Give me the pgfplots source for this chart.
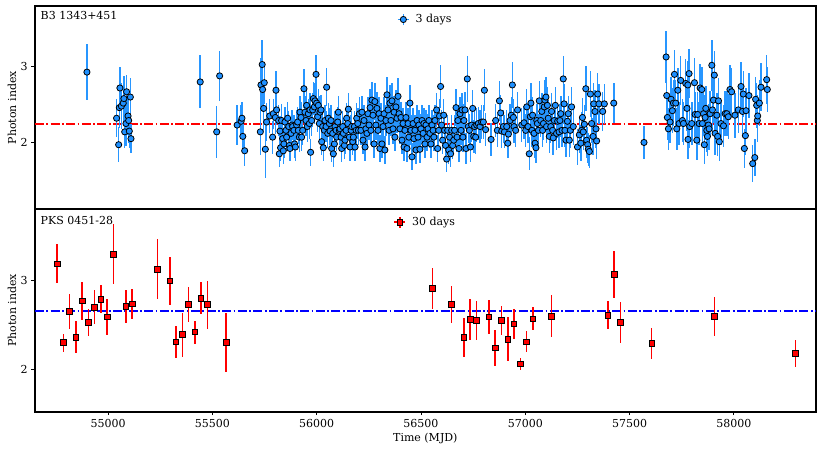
\documentclass[border=0pt]{standalone}
\usepackage{fontspec}
\setmainfont{DejaVu Serif}
\usepackage{pgfplots}
\pgfplotsset{compat=1.18}
\usepackage{pgfplotstable}
\definecolor{ptblue}{RGB}{30,144,255}
\definecolor{ebblue}{RGB}{40,150,255}

\pgfplotstableread{
x y e
54899 2.93 0.37
55041 2.32 0.25
55051 1.97 0.23
55054 2.46 0.27
55057 2.72 0.28
55064 2.48 0.30
55073 2.52 0.28
55076 2.58 0.30
55080 2.14 0.22
55086 2.25 0.30
55089 2.67 0.22
55096 2.35 0.25
55099 2.29 0.30
55102 2.15 0.22
55107 2.60 0.25
55110 2.05 0.19
55442 2.80 0.35
55521 2.14 0.34
55535 2.88 0.33
55619 2.23 0.27
55638 2.28 0.22
55642 2.32 0.22
55646 2.08 0.20
55655 1.89 0.20
55730 2.14 0.30
55733 2.76 0.35
55739 3.03 0.32
55741 2.70 0.30
55746 2.45 0.30
55749 2.79 0.28
55754 1.91 0.38
55760 2.27 0.25
55775 2.35 0.22
55789 2.07 0.22
55792 2.38 0.20
55802 2.33 0.22
55805 2.69 0.25
55808 2.43 0.20
55818 2.29 0.20
55821 1.85 0.18
55824 2.15 0.20
55827 1.93 0.18
55832 2.29 0.22
55837 2.05 0.20
55840 1.89 0.18
55843 1.98 0.18
55848 2.27 0.20
55853 2.16 0.20
55856 2.07 0.18
55861 2.32 0.22
55866 2.21 0.20
55869 1.96 0.18
55872 1.92 0.17
55877 2.12 0.20
55882 2.23 0.20
55885 2.21 0.18
55891 2.16 0.20
55894 1.98 0.18
55898 1.94 0.18
55904 2.23 0.20
55909 2.27 0.20
55912 2.16 0.18
55917 2.07 0.20
55920 2.40 0.22
55925 2.33 0.20
55928 2.07 0.18
55933 2.16 0.20
55939 2.71 0.26
55944 2.40 0.22
55949 2.29 0.20
55952 2.49 0.22
55955 2.21 0.20
55960 2.38 0.20
55965 2.25 0.20
55968 2.43 0.22
55971 1.87 0.18
55976 2.29 0.20
55981 2.43 0.22
55984 2.58 0.22
55989 2.47 0.22
55992 2.55 0.24
55997 2.90 0.26
56000 2.52 0.22
56005 2.34 0.20
56008 2.49 0.22
56013 2.25 0.20
56016 2.40 0.22
56021 2.43 0.20
56024 2.01 0.18
56029 2.21 0.20
56032 1.93 0.18
56037 2.16 0.20
56040 2.29 0.20
56045 2.21 0.20
56048 2.73 0.25
56053 2.12 0.20
56056 2.32 0.20
56061 2.25 0.20
56064 2.15 0.18
56069 2.29 0.20
56072 1.92 0.18
56077 2.12 0.20
56080 1.85 0.17
56085 1.98 0.18
56088 2.21 0.20
56093 2.16 0.20
56096 2.07 0.18
56101 2.27 0.20
56104 2.40 0.22
56109 2.16 0.20
56112 2.18 0.20
56117 2.07 0.18
56120 1.92 0.18
56125 2.21 0.20
56128 2.12 0.20
56133 1.96 0.18
56136 2.03 0.18
56141 2.16 0.20
56144 2.32 0.20
56149 2.25 0.20
56152 2.44 0.22
56157 2.07 0.18
56160 1.94 0.18
56165 2.16 0.20
56168 2.21 0.20
56173 2.01 0.18
56176 2.07 0.18
56181 2.21 0.20
56184 1.94 0.18
56189 2.16 0.20
56192 2.32 0.20
56197 2.25 0.20
56200 2.16 0.20
56205 2.38 0.22
56212 2.16 0.20
56217 2.40 0.22
56222 2.03 0.18
56227 2.29 0.20
56232 1.94 0.18
56236 2.18 0.20
56241 2.12 0.20
56246 2.38 0.22
56251 2.23 0.20
56256 2.46 0.24
56260 2.16 0.20
56265 2.56 0.24
56270 2.36 0.22
56275 1.98 0.18
56279 2.54 0.24
56284 2.23 0.20
56289 2.45 0.22
56294 2.16 0.20
56299 2.38 0.22
56303 1.92 0.18
56308 2.32 0.20
56313 1.98 0.18
56318 2.21 0.20
56323 2.38 0.22
56327 1.90 0.18
56332 2.29 0.20
56337 2.63 0.24
56342 2.43 0.22
56347 2.16 0.20
56351 2.52 0.24
56356 2.29 0.20
56361 2.55 0.24
56366 2.18 0.20
56371 2.40 0.22
56375 2.07 0.18
56380 2.47 0.22
56385 2.32 0.20
56390 2.61 0.24
56395 2.38 0.22
56399 2.18 0.20
56404 2.33 0.20
56409 2.03 0.18
56414 2.25 0.20
56419 1.94 0.18
56423 2.16 0.20
56428 2.33 0.20
56433 1.92 0.18
56438 2.25 0.20
56442 2.07 0.18
56447 2.52 0.24
56452 2.16 0.20
56457 1.81 0.18
56462 2.25 0.20
56466 2.05 0.18
56471 2.16 0.20
56476 1.90 0.18
56481 2.29 0.20
56486 2.07 0.18
56490 2.23 0.20
56495 1.91 0.18
56500 2.18 0.20
56505 2.29 0.20
56510 2.12 0.20
56514 2.25 0.20
56519 1.98 0.18
56524 2.23 0.20
56529 2.07 0.18
56534 2.18 0.20
56538 2.29 0.20
56543 2.12 0.20
56548 1.98 0.18
56553 2.23 0.20
56558 2.16 0.20
56562 2.07 0.18
56567 2.29 0.20
56575 2.43 0.22
56580 1.92 0.18
56585 2.16 0.20
56589 2.35 0.22
56594 2.74 0.28
56599 2.23 0.20
56604 2.03 0.18
56609 2.36 0.22
56613 2.16 0.20
56618 1.96 0.18
56623 1.78 0.17
56628 2.16 0.20
56633 1.90 0.18
56637 2.07 0.18
56642 1.85 0.18
56647 2.16 0.20
56652 1.96 0.18
56657 2.03 0.18
56661 2.16 0.20
56668 2.46 0.24
56673 2.07 0.20
56677 2.29 0.20
56682 1.92 0.18
56687 2.38 0.22
56692 2.16 0.20
56697 2.43 0.22
56701 2.07 0.20
56706 2.29 0.22
56711 2.43 0.24
56716 1.92 0.20
56722 2.84 0.30
56727 2.21 0.22
56732 2.16 0.22
56737 1.94 0.20
56743 2.23 0.22
56748 2.45 0.24
56753 2.08 0.22
56757 2.21 0.22
56762 2.07 0.22
56767 2.23 0.22
56775 2.25 0.22
56783 2.21 0.22
56791 2.27 0.22
56799 2.27 0.22
56804 2.69 0.28
56810 2.17 0.22
56836 2.04 0.22
56858 2.29 0.22
56866 2.16 0.22
56876 2.55 0.26
56882 2.39 0.24
56887 2.15 0.22
56895 2.21 0.22
56900 2.14 0.22
56911 2.21 0.22
56916 1.99 0.20
56919 2.11 0.22
56927 2.29 0.22
56933 2.36 0.24
56938 2.76 0.30
56943 2.33 0.24
56946 2.21 0.22
56954 2.16 0.22
56963 2.43 0.24
56983 2.23 0.22
56994 2.26 0.22
57002 2.16 0.22
57007 2.47 0.24
57013 2.21 0.22
57019 1.85 0.22
57024 2.34 0.24
57027 2.52 0.26
57032 2.16 0.22
57035 2.36 0.24
57042 2.12 0.22
57047 1.99 0.20
57051 1.93 0.20
57055 2.29 0.22
57058 2.25 0.22
57063 2.16 0.22
57067 2.55 0.26
57074 2.29 0.22
57079 2.41 0.24
57083 2.16 0.22
57087 2.25 0.22
57091 2.47 0.24
57094 2.56 0.26
57099 2.60 0.26
57102 2.21 0.22
57106 2.49 0.24
57110 2.32 0.24
57115 2.08 0.22
57122 2.21 0.22
57126 2.41 0.24
57131 2.16 0.22
57134 2.06 0.22
57139 2.29 0.22
57144 2.49 0.24
57150 2.12 0.22
57155 2.28 0.22
57162 2.14 0.22
57166 2.29 0.22
57170 2.38 0.24
57176 2.16 0.22
57182 2.84 0.30
57186 2.51 0.26
57190 2.16 0.22
57195 2.03 0.22
57202 2.28 0.24
57206 2.38 0.24
57211 2.03 0.22
57216 2.16 0.24
57222 2.47 0.26
57230 2.21 0.24
57250 1.94 0.24
57259 2.10 0.24
57266 1.99 0.24
57270 2.16 0.24
57274 2.33 0.26
57278 2.14 0.24
57283 2.24 0.26
57290 2.71 0.30
57294 2.03 0.24
57299 1.97 0.24
57302 1.91 0.22
57307 1.88 0.22
57312 2.64 0.30
57318 2.25 0.26
57325 2.08 0.24
57328 2.51 0.28
57334 2.41 0.28
57339 2.18 0.26
57342 2.02 0.24
57347 2.64 0.28
57353 2.51 0.26
57371 2.41 0.26
57379 2.51 0.26
57424 2.52 0.26
57569 2.00 0.22
57675 3.13 0.35
57678 2.62 0.30
57681 2.33 0.30
57686 2.18 0.28
57694 2.27 0.28
57699 2.57 0.30
57705 2.42 0.30
57710 2.52 0.30
57715 2.90 0.32
57721 2.52 0.30
57726 2.18 0.28
57731 2.69 0.30
57737 2.25 0.28
57745 2.82 0.32
57753 2.29 0.28
57758 2.25 0.28
57769 2.78 0.32
57775 2.45 0.30
57779 2.76 0.32
57780 2.04 0.26
57785 2.91 0.32
57788 2.21 0.28
57798 2.25 0.28
57811 2.79 0.32
57814 2.37 0.30
57822 2.03 0.26
57826 2.37 0.30
57833 2.25 0.28
57838 2.72 0.32
57846 2.70 0.30
57849 2.25 0.28
57854 2.38 0.30
57858 1.97 0.26
57862 2.33 0.30
57865 2.45 0.30
57870 2.16 0.28
57873 2.08 0.26
57878 2.23 0.28
57881 2.18 0.28
57886 2.38 0.30
57894 3.02 0.34
57897 2.43 0.30
57902 2.56 0.30
57906 2.89 0.32
57910 2.12 0.28
57918 2.36 0.30
57922 2.08 0.26
57926 2.55 0.30
57930 2.01 0.26
57938 2.25 0.28
57950 2.22 0.28
57958 2.38 0.30
57966 2.38 0.30
57973 2.34 0.30
57981 2.70 0.32
57989 2.67 0.32
58005 2.36 0.30
58021 2.43 0.30
58034 2.74 0.32
58041 2.41 0.30
58045 2.64 0.30
58050 1.92 0.26
58055 2.09 0.26
58058 2.42 0.30
58072 2.62 0.30
58090 1.72 0.24
58100 1.80 0.24
58104 2.57 0.30
58109 2.49 0.30
58112 2.29 0.28
58114 2.35 0.28
58122 2.52 0.30
58130 2.73 0.32
58157 2.83 0.32
58160 2.70 0.30
}\topdata

\pgfplotstableread{
x y e
54756 3.19 0.22
54786 2.30 0.10
54816 2.65 0.20
54846 2.36 0.18
54876 2.77 0.21
54906 2.53 0.15
54936 2.70 0.19
54966 2.79 0.16
54996 2.59 0.20
55026 3.30 0.34
55086 2.71 0.19
55116 2.74 0.17
55236 3.13 0.34
55296 3.00 0.27
55326 2.31 0.18
55356 2.39 0.25
55386 2.73 0.20
55416 2.42 0.13
55446 2.80 0.18
55476 2.73 0.27
55566 2.30 0.33
56556 2.91 0.23
56646 2.73 0.21
56706 2.36 0.22
56736 2.56 0.23
56766 2.55 0.22
56826 2.59 0.19
56856 2.24 0.20
56886 2.55 0.16
56916 2.34 0.25
56946 2.51 0.17
56976 2.06 0.07
57006 2.31 0.12
57036 2.57 0.13
57126 2.60 0.24
57396 2.61 0.16
57426 3.07 0.26
57456 2.53 0.23
57606 2.29 0.18
57906 2.60 0.22
58296 2.18 0.15
}\botdata

\pgfplotsset{
  panel/.style={
    width=780.7pt, height=202.7pt, scale only axis,
    xmin=54650, xmax=58392,
    font=\fontsize{11}{13}\selectfont,
    tick label style={font=\fontsize{11}{13}\selectfont},
    label style={font=\fontsize{11}{13}\selectfont},
    axis line style={line width=1.9pt, black},
    tick align=outside, ytick pos=left, xtick pos=bottom,
    major tick length=3.5pt,
    tick style={black, line width=0.9pt},
    /pgf/number format/assume math mode=true,
    /pgf/number format/set thousands separator={},
    scaled x ticks=false, scaled y ticks=false,
    ytick={2,3},
    ylabel={Photon index},
    ylabel style={at={(axis description cs:-0.0295,0.5)}, anchor=center},
    legend style={at={(axis description cs:0.5,1)}, anchor=north, yshift=-6pt,
      draw=none, fill=none, inner sep=0pt, column sep=4pt,
      font=\fontsize{11}{13}\selectfont},
    legend cell align=left,
    clip=false,
  },
  bluelegend/.style={
    legend image code/.code={
      \draw[ebblue, line width=1.5pt] (0pt,0pt) -- (11pt,0pt) (5.5pt,-5.5pt) -- (5.5pt,5.5pt);
      \draw[mark repeat=2, mark phase=2, ##1] plot coordinates {(0pt,0pt) (5.5pt,0pt) (11pt,0pt)};
    }
  },
  redlegend/.style={
    legend image code/.code={
      \draw[red, line width=1.5pt] (0pt,0pt) -- (11pt,0pt) (5.5pt,-5.5pt) -- (5.5pt,5.5pt);
      \draw[mark repeat=2, mark phase=2, ##1] plot coordinates {(0pt,0pt) (5.5pt,0pt) (11pt,0pt)};
    }
  },
}

\begin{document}
\fontsize{11}{13}\selectfont
\begin{tikzpicture}
\path[use as bounding box] (-35pt,-39.3pt) rectangle (787pt,411.7pt);

\begin{axis}[panel, at={(0pt,202.7pt)}, anchor=south west,
  ymin=1.12, ymax=3.80, xtick=\empty]
\addplot[color=red, line width=1.7pt, dash pattern=on 9pt off 2.4pt on 1.8pt off 2.4pt, forget plot]
  coordinates {(54650,2.246) (58392,2.246)};
\addplot[only marks, mark=*, mark size=3.1pt,
  mark options={fill=ptblue, draw=black, line width=0.8pt},
  bluelegend,
  error bars/.cd, y dir=both, y explicit, error mark=none,
  error bar style={ebblue, line width=1.5pt}]
  table[x=x, y=y, y error=e] {\topdata};
\addlegendentry{3 days}
\node[anchor=north west, inner sep=0pt, xshift=5.5pt, yshift=-5pt] at (rel axis cs:0,1) {B3 1343+451};
\end{axis}

\begin{axis}[panel, at={(0pt,0pt)}, anchor=south west,
  ymin=1.52, ymax=3.81,
  xtick={55000,55500,56000,56500,57000,57500,58000},
  xlabel={Time (MJD)},
  xlabel style={at={(axis description cs:0.5,-0.131)}, anchor=center}]
\addplot[color=blue, line width=1.7pt, dash pattern=on 9pt off 2.4pt on 1.8pt off 2.4pt, forget plot]
  coordinates {(54650,2.66) (58392,2.66)};
\addplot[only marks, mark=square*, mark size=2.8pt,
  mark options={fill=red, draw=black, line width=0.8pt},
  redlegend,
  error bars/.cd, y dir=both, y explicit, error mark=none,
  error bar style={red, line width=1.5pt}]
  table[x=x, y=y, y error=e] {\botdata};
\addlegendentry{30 days}
\node[anchor=north west, inner sep=0pt, xshift=5.5pt, yshift=-7.5pt] at (rel axis cs:0,1) {PKS 0451-28};
\end{axis}
\end{tikzpicture}
\end{document}
